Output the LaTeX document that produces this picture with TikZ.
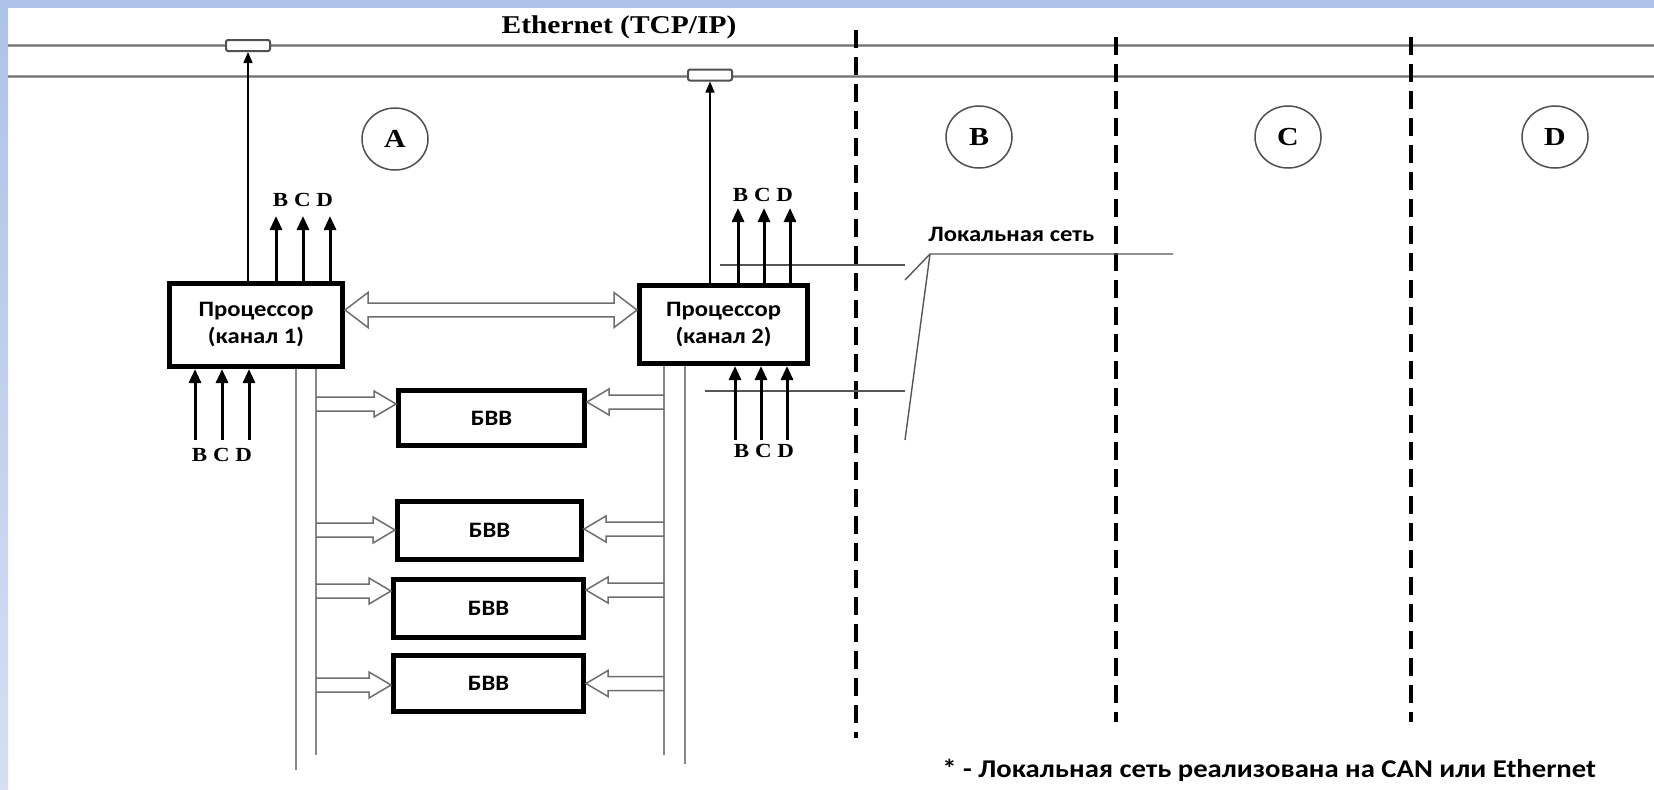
\documentclass[tikz,border=0pt]{standalone}
\usepackage{fontspec}
\setmainfont{Liberation Serif}
\newfontfamily\serifw[FakeStretch=1.15]{Liberation Serif}
\newfontfamily\sansw[FakeStretch=1.12]{Carlito}
\usetikzlibrary{arrows.meta,shapes.geometric,calc}
\definecolor{frameblue}{RGB}{174,195,232}
\definecolor{framelight}{RGB}{212,223,241}
\definecolor{ethgray}{RGB}{160,160,160}
\definecolor{ethcore}{RGB}{110,110,110}
\definecolor{busgray}{RGB}{135,135,135}
\definecolor{holgray}{RGB}{110,110,110}
\definecolor{callgray}{RGB}{85,85,85}
\definecolor{zonegray}{RGB}{80,80,80}
\newcommand\holarrow[3]{%
  \draw[hol] let \p1=(#1), \p2=(#2) in
    (\x1,\y1+3.5pt) -- (\x2+#3,\y1+3.5pt) -- (\x2+#3,\y1+6.5pt) -- (\x2,\y1)
    -- (\x2+#3,\y1-6.5pt) -- (\x2+#3,\y1-3.5pt) -- (\x1,\y1-3.5pt);}
\begin{document}
\begin{tikzpicture}[x=0.5pt,y=-0.5pt,
  procbox/.style={draw=black,line width=2.5pt,fill=white,inner sep=0pt,align=center,
    font=\sansw\bfseries\fontsize{11pt}{13.5pt}\selectfont},
  bvv/.style={draw=black,line width=2.5pt,fill=white,inner sep=0pt,
    font=\sansw\bfseries\fontsize{11pt}{13pt}\selectfont},
  conn/.style={draw=zonegray,line width=1pt,fill=white,rounded corners=1pt,
    minimum width=22pt,minimum height=5.5pt,inner sep=0pt},
  zone/.style={ellipse,draw=zonegray,line width=0.75pt,minimum width=33pt,minimum height=31pt,
    inner sep=0pt,font=\serifw\bfseries\fontsize{13pt}{14pt}\selectfont},
  bcdlab/.style={inner sep=0pt,font=\serifw\bfseries\fontsize{10pt}{11pt}\selectfont},
  ethtext/.style={inner sep=0pt,font=\serifw\bfseries\fontsize{12.8pt}{14pt}\selectfont},
  loctext/.style={inner sep=0pt,font=\sansw\bfseries\fontsize{11pt}{13pt}\selectfont},
  notetext/.style={inner sep=0pt,font=\sansw\bfseries\fontsize{12.8pt}{15pt}\selectfont},
  bcd/.style={line width=1.5pt,-{Triangle[width=6pt,length=7pt]}},
  etharrow/.style={line width=0.75pt,-{Triangle[width=4.5pt,length=5.5pt]}},
  ethline/.style={ethgray,line width=1.5pt,postaction={draw,ethcore,line width=0.5pt}},
  bus/.style={busgray,line width=1pt},
  hol/.style={holgray,line width=0.75pt,line join=miter},
  callout/.style={callgray,line width=0.7pt},
  divider/.style={black,line width=1.6pt,dash pattern=on 9pt off 4.5pt}]
\fill[white] (0,0) rectangle (1654,789);
\useasboundingbox (0,0) rectangle (1654,789);
% frame
\fill[frameblue] (0,0) rectangle (1654,8);
\shade[top color=frameblue,bottom color=framelight] (0,8) rectangle (8,789);
% ethernet lines
\coordinate (e1l) at (8,45); \coordinate (e1r) at (1654,45);
\coordinate (e2l) at (8,76); \coordinate (e2r) at (1654,76);
\draw[ethline] (e1l) -- (e1r);
\draw[ethline] (e2l) -- (e2r);
\node[ethtext] (eth) at (619,27) {Ethernet (TCP/IP)};
% dividers
\coordinate (d1t) at (856,30);  \coordinate (d1b) at (856,738);
\coordinate (d2t) at (1116,37); \coordinate (d2b) at (1116,722);
\coordinate (d3t) at (1411,37); \coordinate (d3b) at (1411,722);
\draw[divider] (d1t) -- (d1b);
\draw[divider] (d2t) -- (d2b);
\draw[divider] (d3t) -- (d3b);
% zones
\node[zone] (zA) at (395,139) {A};
\node[zone] (zB) at (979,137) {B};
\node[zone] (zC) at (1288,137) {C};
\node[zone] (zD) at (1555,137) {D};
% connectors on ethernet
\node[conn] (c1) at (248,45.5) {};
\node[conn] (c2) at (710,75) {};
% processors
\node[procbox,minimum width=86.5pt,minimum height=41.5pt] (p1) at (256,325) {Процессор\\(канал 1)};
\node[procbox,minimum width=84pt,minimum height=39pt] (p2) at (723.5,324.5) {Процессор\\(канал 2)};
\draw[etharrow] (p1.north -| c1) -- (c1.south);
\draw[etharrow] (p2.north -| c2) -- (c2.south);
% local network lines
\coordinate (ln1a) at (720,265); \coordinate (ln1b) at (905,265);
\coordinate (ln2a) at (705,391); \coordinate (ln2b) at (905,391);
\coordinate (lk) at (930,254); \coordinate (lkr) at (1173,254);
\coordinate (lks) at (905,280); \coordinate (lkl) at (905,440);
\draw[callout] (ln1a) -- (ln1b);
\draw[callout] (ln2a) -- (ln2b);
\draw[callout] (lks) -- (lk) -- (lkr);
\draw[callout] (lk) -- (lkl);
\node[loctext,anchor=base west] (loc) at (928,241) {Локальная сеть};
% BCD arrows processor 1
\foreach \n/\xx in {1/276,2/303,3/330} {
  \coordinate (pt\n) at (\xx,216);
  \draw[bcd] (pt\n |- p1.north) -- (pt\n);
}
\foreach \n/\xx in {1/195,2/222,3/249} {
  \coordinate (pb\n) at (\xx,440);
  \draw[bcd] (pb\n) -- (pb\n |- p1.south);
}
\node[bcdlab] (lab1t) at (303,200) {B C D};
\node[bcdlab] (lab1b) at (222,455) {B C D};
% BCD arrows processor 2
\foreach \n/\xx in {1/738,2/764,3/790} {
  \coordinate (qt\n) at (\xx,208);
  \draw[bcd] (qt\n |- p2.north) -- (qt\n);
}
\foreach \n/\xx in {1/735,2/761,3/787} {
  \coordinate (qb\n) at (\xx,440);
  \draw[bcd] (qb\n) -- (qb\n |- p2.south);
}
\node[bcdlab] (lab2t) at (763,195) {B C D};
\node[bcdlab] (lab2b) at (764,451) {B C D};
% double hollow arrow between processors
\coordinate (dm) at (0,310);
\draw[hol] let \p1=(p1.east |- dm), \p2=(p2.west |- dm) in
  (\x1,\y1) -- (\x1+11.5pt,\y1+8.75pt) -- (\x1+11.5pt,\y1+3.4pt) -- (\x2-11.5pt,\y1+3.4pt)
  -- (\x2-11.5pt,\y1+8.75pt) -- (\x2,\y1) -- (\x2-11.5pt,\y1-8.75pt) -- (\x2-11.5pt,\y1-3.4pt)
  -- (\x1+11.5pt,\y1-3.4pt) -- (\x1+11.5pt,\y1-8.75pt) -- cycle;
% buses
\coordinate (bl1) at (296,770); \coordinate (bl2) at (316,755);
\coordinate (br1) at (664,755); \coordinate (br2) at (685,764);
\draw[bus] (bl1 |- p1.south) -- (bl1);
\draw[bus] (bl2 |- p1.south) -- (bl2);
\draw[bus] (br1 |- p2.south) -- (br1);
\draw[bus] (br2 |- p2.south) -- (br2);
% I/O blocks
\node[bvv,minimum width=93pt,minimum height=27.5pt] (b1) at (491.5,418) {БВВ};
\node[bvv,minimum width=92pt,minimum height=29pt] (b2) at (489.5,530.5) {БВВ};
\node[bvv,minimum width=95pt,minimum height=29pt] (b3) at (488.5,608.5) {БВВ};
\node[bvv,minimum width=95pt,minimum height=28pt] (b4) at (488.5,683.5) {БВВ};
% hollow arrows to blocks
\coordinate (al1) at (316,404); \coordinate (ar1) at (664,402);
\coordinate (al2) at (316,530); \coordinate (ar2) at (664,529);
\coordinate (al3) at (316,591); \coordinate (ar3) at (664,590);
\coordinate (al4) at (316,685); \coordinate (ar4) at (664,683.5);
\holarrow{al1}{b1.west}{-11pt}
\holarrow{ar1}{b1.east}{11pt}
\holarrow{al2}{b2.west}{-11pt}
\holarrow{ar2}{b2.east}{11pt}
\holarrow{al3}{b3.west}{-11pt}
\holarrow{ar3}{b3.east}{11pt}
\holarrow{al4}{b4.west}{-11pt}
\holarrow{ar4}{b4.east}{11pt}
% footnote
\node[notetext,anchor=base west] (note) at (942,777) {* - Локальная сеть реализована на CAN или Ethernet};
\end{tikzpicture}
\end{document}
